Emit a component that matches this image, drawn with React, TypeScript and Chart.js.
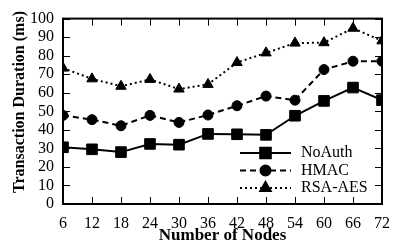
import React, { useEffect, useRef } from "react";
import { Chart, registerables } from "chart.js";
import { drawPoint } from "chart.js/helpers";
Chart.register(...registerables);

const nodes = [6, 12, 18, 24, 30, 36, 42, 48, 54, 60, 66, 72];
const noAuth = [30.6, 29.5, 28, 32.4, 32, 37.8, 37.6, 37.3, 47.6, 55.6, 62.8, 56];
const hmac = [47.8, 45.5, 42.2, 47.8, 44, 48, 53, 58.2, 56, 72.5, 77, 77];
const rsaAes = [73.3, 67.5, 63.5, 67.2, 62, 64.5, 76.3, 81.5, 86.8, 87, 94.8, 88];
const seriesNames = ["NoAuth", "HMAC", "RSA-AES"];
const xTitle = "Number of Nodes";
const yTitle = "Transaction Duration (ms)";

const FONT = "'Liberation Serif', 'Times New Roman', serif";

const framePlugin = {
  id: "frame",
  afterDraw(chart: any) {
    const { ctx, chartArea, scales } = chart;
    const { left, right, top, bottom } = chartArea;
    const x = scales.x;
    const y = scales.y;
    ctx.save();
    ctx.strokeStyle = "#000";
    ctx.lineWidth = 1;
    const t = 7;
    ctx.beginPath();
    x.ticks.forEach((tk: any) => {
      const px = Math.round(x.getPixelForValue(tk.value)) + 0.5;
      ctx.moveTo(px, bottom);
      ctx.lineTo(px, bottom - t);
      ctx.moveTo(px, top);
      ctx.lineTo(px, top + t);
    });
    y.ticks.forEach((tk: any) => {
      const py = Math.round(y.getPixelForValue(tk.value)) + 0.5;
      ctx.moveTo(left, py);
      ctx.lineTo(left + t, py);
      ctx.moveTo(right, py);
      ctx.lineTo(right - t, py);
    });
    ctx.stroke();
    ctx.lineWidth = 2;
    ctx.strokeRect(left, top, right - left, bottom - top);

    // axis titles
    ctx.fillStyle = "#000";
    ctx.font = `bold 17px ${FONT}`;
    ctx.textAlign = "center";
    ctx.textBaseline = "middle";
    ctx.fillText(xTitle, (left + right) / 2, 236);
    ctx.save();
    ctx.translate(20, 102);
    ctx.rotate(-Math.PI / 2);
    ctx.font = `bold 16px ${FONT}`;
    ctx.fillText(yTitle, 0, 0);
    ctx.restore();

    // legend
    const rows = [153, 170.5, 188];
    const x0 = right - 142;
    const x1 = right - 91;
    const xm = (x0 + x1) / 2;
    chart.data.datasets.forEach((ds: any, i: number) => {
      const ry = rows[i];
      ctx.save();
      ctx.strokeStyle = "#000";
      ctx.lineWidth = 2;
      ctx.setLineDash(ds.borderDash || []);
      ctx.beginPath();
      ctx.moveTo(x0, ry);
      ctx.lineTo(x1, ry);
      ctx.stroke();
      ctx.setLineDash([]);
      ctx.fillStyle = "#000";
      drawPoint(ctx, { pointStyle: ds.pointStyle, radius: ds.pointRadius, borderWidth: 1, rotation: 0 }, xm, ry);
      ctx.font = `16px ${FONT}`;
      ctx.textAlign = "left";
      ctx.textBaseline = "middle";
      ctx.fillText(ds.label, right - 81, ry);
      ctx.restore();
    });
    ctx.restore();
  },
};

export default function App() {
  const ref = useRef<HTMLCanvasElement>(null);
  useEffect(() => {
    document.body.style.margin = "0";
    const mk = (vals: number[]) => nodes.map((n, i) => ({ x: n, y: vals[i] }));
    const chart = new Chart(ref.current!, {
      type: "line",
      data: {
        datasets: [
          { label: seriesNames[0], data: mk(noAuth), borderColor: "#000", backgroundColor: "#000", borderWidth: 2, pointStyle: "rect", pointRadius: 7.5, pointBorderWidth: 1, borderDash: [] },
          { label: seriesNames[1], data: mk(hmac), borderColor: "#000", backgroundColor: "#000", borderWidth: 2, pointStyle: "circle", pointRadius: 5, pointBorderWidth: 1, borderDash: [6, 4] },
          { label: seriesNames[2], data: mk(rsaAes), borderColor: "#000", backgroundColor: "#000", borderWidth: 2, pointStyle: "triangle", pointRadius: 6, pointBorderWidth: 1, borderDash: [2, 3] },
        ] as any,
      },
      options: {
        animation: false,
        responsive: false,
        events: [],
        layout: { padding: { top: 17, right: 10, left: 0, bottom: 0 } },
        plugins: { legend: { display: false }, tooltip: { enabled: false } },
        scales: {
          x: {
            type: "linear",
            min: 6,
            max: 72,
            grid: { display: false, drawTicks: false },
            border: { display: false },
            ticks: { stepSize: 6, autoSkip: false, maxRotation: 0, padding: 10, color: "#000", font: { family: FONT, size: 16 } },
            afterFit: (s: any) => { s.height = 43; },
          },
          y: {
            min: 0,
            max: 100,
            grid: { display: false, drawTicks: false },
            border: { display: false },
            ticks: { stepSize: 10, autoSkip: false, padding: 9, color: "#000", font: { family: FONT, size: 16 } },
            afterFit: (s: any) => { s.width = 63; },
          },
        },
      },
      plugins: [framePlugin],
    });
    return () => chart.destroy();
  }, []);
  return (
    <div style={{ width: 400, height: 247 }}>
      <canvas ref={ref} width={400} height={247} style={{ display: "block" }} />
    </div>
  );
}
